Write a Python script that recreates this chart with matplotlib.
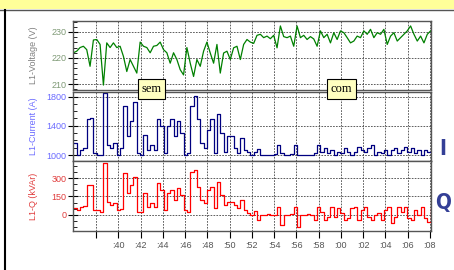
import numpy as np
import pandas as pd
import matplotlib
matplotlib.use('Agg')
import matplotlib.pyplot as plt
import matplotlib.dates as mdates
from matplotlib.ticker import MultipleLocator, FixedLocator, FuncFormatter
from matplotlib.patches import Rectangle
from matplotlib.lines import Line2D

# logger record: one sample every 18 s, starting 10:35:58
start_time = '2011-03-01 10:35:58'
sample_step = '18s'

voltage = [222.0, 222.6, 224.0, 224.5, 223.2, 216.8, 226.9, 227.1, 225.2, 209.6,
           225.8, 224.0, 225.8, 224.0, 224.5, 220.6, 214.8, 219.4, 216.8, 214.2,
           226.1, 224.5, 224.0, 222.0, 224.5, 224.8, 226.1, 223.2, 222.0, 218.0,
           222.0, 219.4, 215.5, 213.5, 224.0, 218.0, 212.9,
           219.4, 216.8, 222.6, 226.1, 221.9, 218.0, 225.2, 214.2, 221.9, 222.6,
           219.4, 223.9, 224.5, 219.4, 225.2, 227.1, 226.1, 225.6, 228.7, 229.1,
           227.8, 228.4, 227.4, 228.7, 223.9, 232.3, 228.2, 227.8, 228.4, 224.5,
           232.3, 227.8, 228.7, 227.1, 228.2, 227.3,
           224.5, 230.4, 227.8, 229.1, 225.8, 229.7, 227.1, 230.4, 229.7, 227.8,
           225.8, 226.5, 228.4, 227.8, 230.4, 229.1, 231.0, 227.8, 229.7, 229.1,
           231.0, 225.2, 228.4, 229.7, 226.5, 227.8, 229.1, 230.4, 232.3, 229.1,
           226.5, 228.4, 225.8, 229.1, 230.4]

current = [1162, 1000, 1070, 1093, 1486, 1509, 1024, 1000, 1000, 1846,
           1139, 1093, 1162, 1000, 1093, 1671, 1255, 1463, 1726, 1024,
           1000, 1278, 1070, 1139, 1070, 1486, 1393, 1024, 1393, 1486,
           1255, 1463, 1301, 1000, 1024, 1671, 1809,
           1486, 1162, 1093, 1347, 1486, 1024, 1555, 1301, 1047, 1255,
           1255, 1093, 1024, 1232, 1070, 1047, 1000, 1047, 1079, 1000,
           1000, 1000, 1000, 1010, 1139, 1024, 1000, 1000, 1010, 1139,
           1000, 1000, 1000, 1000, 1000, 1024,
           1139, 1047, 1093, 1024, 1070, 1000, 1047, 1024, 1093, 1047,
           1000, 1047, 1116, 1070, 1047, 1093, 1139, 1000, 1047, 1024,
           1070, 1000, 1070, 1093, 1024, 1070, 1116, 1047, 1093, 1024,
           1070, 1000, 1070, 1047, 1070]

reactive = [54, 40, 68, 73, 243, 243, 40, 40, 27, 419,
            108, 81, 95, 40, 46, 338, 176, 243, 311, 27,
            27, 176, 68, 95, 68, 257, 203, 40, 176, 203,
            122, 216, 162, 40, 27, 351, 365,
            230, 122, 95, 203, 230, 54, 270, 162, 81, 108,
            108, 81, 54, 122, 40, 19, 0, 35, -40, 0,
            0, 5, 0, 0, 68, -81, 0, 0, 5, 68,
            -95, 0, 0, 5, 0, -40,
            68, 27, -40, -14, 68, -14, 54, 14, -40, -27,
            54, 68, -40, 40, 68, -14, -40, 0, 14, -40,
            40, 68, -68, -14, 68, 27, 68, -27, -40, 40,
            0, 68, -27, -54, 54]

times = pd.date_range(start_time, periods=len(voltage), freq=sample_step)
x_start = pd.Timestamp('2011-03-01 10:35:56')
x_end = pd.Timestamp('2011-03-01 11:08:06')
tick_times = pd.date_range('2011-03-01 10:38', '2011-03-01 11:08', freq='2min')

W, H = 454, 270
FONT = ['Liberation Sans', 'DejaVu Sans']


def minute_label(x, pos):
    d = mdates.num2date(x)
    if d.minute == 38:
        return ''
    return ':%02d' % d.minute


def setup_panel(ax, values, color, ylim, major, minor, label, label_color, tick_color, steps=True):
    ax.plot(times, values, color=color, lw=0.9,
            drawstyle='steps-post' if steps else 'default')
    ax.set_ylim(*ylim)
    ax.set_xlim(x_start, x_end)
    ax.yaxis.set_major_locator(FixedLocator(major))
    ax.yaxis.set_minor_locator(MultipleLocator(minor))
    ax.xaxis.set_major_locator(FixedLocator(mdates.date2num(tick_times)))
    ax.set_ylabel(label, color=label_color, fontsize=6.5, family=FONT)
    ax.yaxis.set_label_coords(-0.098, 0.5)
    ax.tick_params(axis='y', which='major', direction='inout', length=7, width=0.8,
                   labelcolor=tick_color, labelsize=6.5, pad=1)
    ax.tick_params(axis='y', which='minor', direction='in', length=3, width=0.6)
    for lab in ax.get_yticklabels():
        lab.set_family(FONT)
    ax.grid(True, which='major', color='#444444', linestyle=(0, (2, 1.5)), lw=0.6)
    for s in ax.spines.values():
        s.set_color('#555555')
        s.set_linewidth(1.0)


fig = plt.figure(figsize=(W / 100, H / 100), dpi=100)
fig.patch.set_facecolor('white')

# slide decoration: yellow strip on top, frame lines
fig.patches.append(Rectangle((0, 1 - 9 / H), 1, 9 / H, transform=fig.transFigure,
                             facecolor='#ffff99', edgecolor='none'))
fig.lines.append(Line2D([0, 1], [1 - 9.5 / H] * 2, transform=fig.transFigure,
                        color='#555555', lw=1))
fig.lines.append(Line2D([4.5 / W] * 2, [0, 1 - 9.5 / H], transform=fig.transFigure,
                        color='black', lw=1.5))

left, width = 73 / W, 358 / W
ax_v = fig.add_axes([left, 1 - 90 / H, width, 69 / H])
ax_i = fig.add_axes([left, 1 - 161 / H, width, 69 / H])
ax_q = fig.add_axes([left, 1 - 231 / H, width, 70 / H])

setup_panel(ax_v, voltage, '#008000', (207.7, 234.2), [210, 220, 230], 2,
            'L1-Voltage (V)', '#808080', '#7f9a76', steps=False)
setup_panel(ax_i, current, '#000080', (918, 1862), [1000, 1400, 1800], 100,
            'L1-Current (A)', '#6b6bff', '#6b6bff')
setup_panel(ax_q, reactive, '#ff0000', (-130, 438), [0, 150, 300], 50,
            'L1-Q (kVAr)', '#e03c3c', '#e03c3c')

for ax in (ax_v, ax_i):
    ax.tick_params(axis='x', length=0, labelbottom=False)

ax_q.xaxis.set_major_formatter(FuncFormatter(minute_label))
ax_q.tick_params(axis='x', direction='out', length=5, width=0.8,
                 labelsize=6.5, labelcolor='#555555', pad=2)
for lab in ax_q.get_xticklabels():
    lab.set_family(FONT)

# phase markers
box = dict(boxstyle='square,pad=0.3', fc='#ffffc0', ec='black', lw=0.8)
fig.text(151.7 / W, 1 - 89 / H, 'sem', ha='center', va='center', fontsize=9,
         family=['Liberation Serif', 'DejaVu Serif'], bbox=box, zorder=10)
fig.text(341.7 / W, 1 - 89 / H, 'com', ha='center', va='center', fontsize=9,
         family=['Liberation Serif', 'DejaVu Serif'], bbox=box, zorder=10)

# side letters
fig.text(443 / W, 1 - 149 / H, 'I', ha='center', va='center', fontsize=15,
         weight='bold', stretch='condensed', color='#343f96', family='DejaVu Sans')
fig.text(443 / W, 1 - 203 / H, 'Q', ha='center', va='center', fontsize=15,
         weight='bold', stretch='condensed', color='#343f96', family='DejaVu Sans')

fig.savefig('out.png', dpi=100)
print('saved out.png')
